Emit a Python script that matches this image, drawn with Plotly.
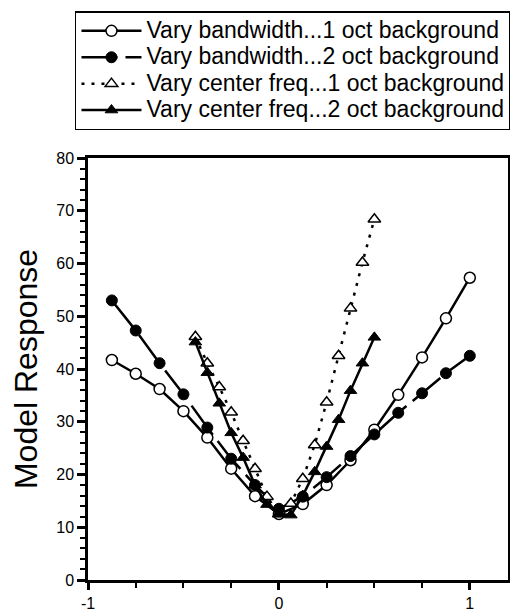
import plotly.graph_objects as go

# Data
x_bw = [-0.875, -0.75, -0.625, -0.5, -0.375, -0.25, -0.125, 0.0,
        0.125, 0.25, 0.375, 0.5, 0.625, 0.75, 0.875, 1.0]
bw_1oct = [41.7, 39.1, 36.2, 32.0, 27.0, 21.1, 15.9, 12.5,
           14.4, 18.0, 22.7, 28.5, 35.1, 42.2, 49.6, 57.3]
bw_2oct = [53.0, 47.3, 41.1, 35.2, 28.9, 23.0, 18.0, 13.5,
           15.8, 19.5, 23.5, 27.6, 31.7, 35.4, 39.2, 42.5]

x_cf = [-0.4375, -0.375, -0.3125, -0.25, -0.1875, -0.125, -0.0625, 0.0,
        0.0625, 0.125, 0.1875, 0.25, 0.3125, 0.375, 0.4375, 0.5]
cf_1oct = [46.1, 41.1, 36.6, 31.8, 26.4, 21.1, 15.8, 12.5,
           14.5, 19.2, 25.6, 33.7, 42.5, 51.5, 60.2, 68.4]
cf_2oct = [45.1, 39.3, 33.5, 27.9, 23.2, 18.0, 14.3, 12.5,
           12.3, 16.0, 20.5, 25.3, 30.4, 35.9, 41.1, 46.0]

names = ["Vary bandwidth...1 oct background",
         "Vary bandwidth...2 oct background",
         "Vary center freq...1 oct background",
         "Vary center freq...2 oct background"]

x_ticks = [-1, 0, 1]
y_ticks = [0, 10, 20, 30, 40, 50, 60, 70, 80]


def big(txt):
    return '<span style="font-size:23px">' + txt + '</span>'


fig = go.Figure()
fig.add_trace(go.Scatter(
    x=x_bw, y=bw_1oct, name=big(names[0]), mode="lines+markers",
    line=dict(color="black", width=2.5),
    marker=dict(symbol="circle", size=11, color="white",
                line=dict(color="black", width=1.5))))
fig.add_trace(go.Scatter(
    x=x_bw, y=bw_2oct, name=big(names[1]), mode="lines+markers",
    line=dict(color="black", width=2.5, dash="36px,8px"),
    marker=dict(symbol="circle", size=11, color="black",
                line=dict(color="black", width=1))))
fig.add_trace(go.Scatter(
    x=x_cf, y=cf_1oct, name=big(names[2]), mode="lines+markers",
    line=dict(color="black", width=2.5, dash="3px,7px"),
    marker=dict(symbol="triangle-up", size=11, color="white",
                line=dict(color="black", width=1.5))))
fig.add_trace(go.Scatter(
    x=x_cf, y=cf_2oct, name=big(names[3]), mode="lines+markers",
    line=dict(color="black", width=2.5),
    marker=dict(symbol="triangle-up", size=11, color="black",
                line=dict(color="black", width=1))))

font_family = "Liberation Sans, Arial, Helvetica, sans-serif"

# page body has an 8px margin, so the figure is sized/offset to compensate
fig.update_layout(
    width=510, height=605,
    margin=dict(l=80, r=10, t=150, b=33, autoexpand=False),
    paper_bgcolor="white", plot_bgcolor="white",
    font=dict(family=font_family, color="black", size=16),
    showlegend=True,
    legend=dict(
        x=-0.031, y=1.348, xanchor="left", yanchor="top",
        bgcolor="white", bordercolor="black", borderwidth=1.5,
        font=dict(size=18, family=font_family),
        itemwidth=60, tracegroupgap=0,
    ),
    xaxis=dict(
        range=[-1, 1.2], tickvals=x_ticks, ticktext=[str(v) for v in x_ticks],
        showgrid=False, zeroline=False, showline=True, linecolor="black",
        linewidth=2.5, mirror=True, ticks="outside", ticklen=7, tickwidth=2.5,
        tickcolor="black",
        minor=dict(dtick=0.25, ticks="outside", ticklen=5, tickwidth=2,
                   tickcolor="black", showgrid=False),
        tickfont=dict(size=16),
    ),
    yaxis=dict(
        range=[0, 80], tickvals=y_ticks,
        showgrid=False, zeroline=False, showline=True, linecolor="black",
        linewidth=2.5, mirror=True, ticks="outside", ticklen=8, tickwidth=2.5,
        tickcolor="black",
        minor=dict(dtick=2, ticks="outside", ticklen=5, tickwidth=2,
                   tickcolor="black", showgrid=False),
        tickfont=dict(size=16),
        title=dict(text="Model Response", font=dict(size=32), standoff=19),
    ),
)

fig.write_html("out.html")
